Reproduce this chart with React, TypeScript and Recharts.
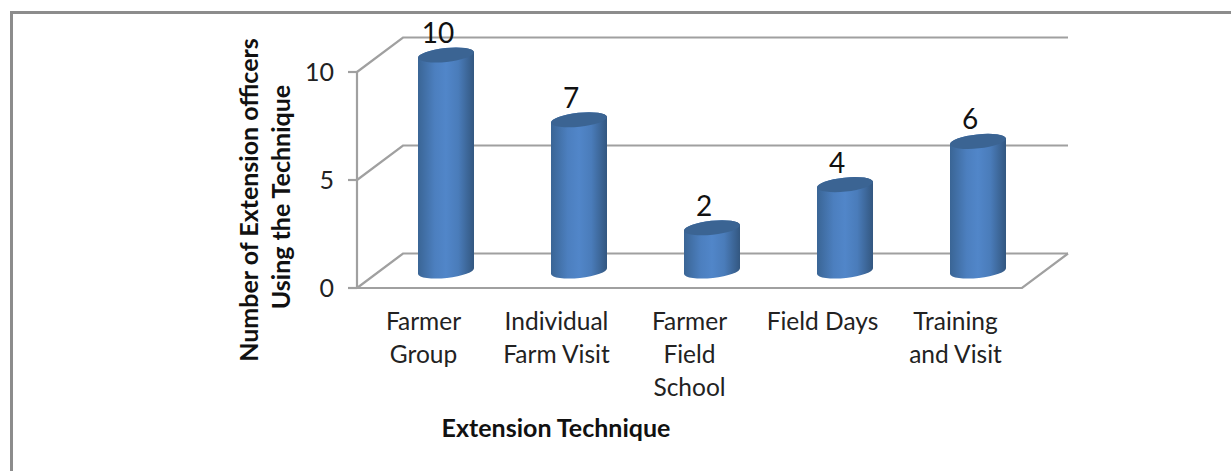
import { BarChart, Bar, XAxis, YAxis, CartesianGrid, LabelList } from "recharts";

const categories = ["Farmer Group", "Individual Farm Visit", "Farmer Field School", "Field Days", "Training and Visit"];
const categoryLines = [
  ["Farmer", "Group"],
  ["Individual", "Farm Visit"],
  ["Farmer", "Field", "School"],
  ["Field Days"],
  ["Training", "and Visit"],
];
const officers = [10, 7, 2, 4, 6];
const valueTicks = [0, 5, 10];

const data = categories.map((name, i) => ({ name, officers: officers[i] }));

const FONT = "Lato, 'Open Sans', sans-serif";
const WIDTH = 1231;
const HEIGHT = 471;
const LEFT = 379;
const RIGHT = 1044;
const TOP = 55;
const BOTTOM = 271;
// 3d offsets from the bars' plane to the front edge and back wall
const FRONT_X = -22;
const FRONT_Y = 17;
const BACK_X = 24;
const BACK_Y = -17.5;
const LINE = "#a0a0a0";

function GridLine(props: any) {
  const { x1, x2, y1 } = props;
  const fx = x1 + FRONT_X;
  const bx = x1 + BACK_X;
  const isFloor = Math.abs(y1 - BOTTOM) < 1;
  const base = { stroke: LINE, strokeWidth: 2.2, fill: "none" };
  return (
    <g>
      <polyline {...base} points={`${fx},${y1 + FRONT_Y} ${bx},${y1 + BACK_Y} ${x2 + BACK_X},${y1 + BACK_Y}`} />
      {isFloor && (
        <polyline
          {...base}
          points={`${fx},${TOP + FRONT_Y} ${fx},${y1 + FRONT_Y} ${x2 + FRONT_X},${y1 + FRONT_Y} ${x2 + BACK_X},${y1 + BACK_Y}`}
        />
      )}
    </g>
  );
}

function ValueTick({ y, payload }: any) {
  const front = LEFT + FRONT_X;
  return (
    <g>
      <line x1={front - 9} x2={front} y1={y + FRONT_Y} y2={y + FRONT_Y} stroke={LINE} strokeWidth={2.2} />
      <text x={334} y={y + FRONT_Y + 9} textAnchor="end" fontFamily={FONT} fontSize={25} fill="#222">
        {payload.value}
      </text>
    </g>
  );
}

function CategoryTick({ x, payload }: any) {
  const lines = categoryLines[categories.indexOf(payload.value)];
  return (
    <text textAnchor="middle" fontFamily={FONT} fontSize={24.5} fill="#222">
      {lines.map((line, i) => (
        <tspan key={line} x={x + FRONT_X} y={BOTTOM + 59 + i * 33}>
          {line}
        </tspan>
      ))}
    </text>
  );
}

function Cylinder({ x, y, width, height }: any) {
  const rx = width / 2;
  const ry = 7;
  const tilt = 3;
  const bottom = y + height;
  const side = `M${x},${y + tilt} L${x},${bottom + tilt}
    A${rx},${ry} -6 0 0 ${x + width},${bottom - tilt}
    L${x + width},${y - tilt}
    A${rx},${ry} -6 0 0 ${x},${y + tilt} Z`;
  return (
    <g>
      <path d={side} fill="url(#cylinderSide)" />
      <ellipse
        cx={x + rx}
        cy={y}
        rx={rx}
        ry={ry}
        transform={`rotate(-6 ${x + rx} ${y})`}
        fill="#3b6493"
      />
    </g>
  );
}

function BarValue({ x, y, width, value }: any) {
  return (
    <text x={x + width / 2 - 8} y={y - 12} textAnchor="middle" fontFamily={FONT} fontSize={28} fill="#111">
      {value}
    </text>
  );
}

export default function App() {
  return (
    <div style={{ position: "absolute", left: 0, top: 0, width: WIDTH, height: HEIGHT, background: "#fff", overflow: "hidden" }}>
      <div
        style={{
          position: "absolute",
          left: 10,
          top: 11,
          width: WIDTH,
          height: HEIGHT,
          borderLeft: "3px solid #8c8c8c",
          borderTop: "3px solid #8c8c8c",
        }}
      />
      <div style={{ position: "absolute", left: 0, top: 0 }}>
        <BarChart
          width={WIDTH}
          height={HEIGHT}
          data={data}
          margin={{ left: LEFT - 60, right: WIDTH - RIGHT, top: TOP, bottom: HEIGHT - BOTTOM - 60 }}
        >
          <defs>
            <linearGradient id="cylinderSide" x1="0" y1="0" x2="1" y2="0">
              <stop offset="0%" stopColor="#3a6595" />
              <stop offset="30%" stopColor="#4c7fbf" />
              <stop offset="50%" stopColor="#5186c9" />
              <stop offset="72%" stopColor="#4a7cba" />
              <stop offset="100%" stopColor="#335780" />
            </linearGradient>
          </defs>
          <CartesianGrid vertical={false} horizontal={(p: any) => <GridLine key={p.key} {...p} />} />
          <XAxis dataKey="name" height={60} axisLine={false} tickLine={false} interval={0} tick={<CategoryTick />} />
          <YAxis width={60} domain={[0, 10]} ticks={valueTicks} axisLine={false} tickLine={false} tick={<ValueTick />} />
          <Bar dataKey="officers" barSize={56} isAnimationActive={false} shape={<Cylinder />}>
            <LabelList dataKey="officers" content={<BarValue />} />
          </Bar>
          <text
            transform="translate(258 200) rotate(-90)"
            textAnchor="middle"
            fontFamily={FONT}
            fontSize={25}
            fontWeight={700}
            fill="#111"
          >
            Number of Extension officers
          </text>
          <text
            transform="translate(290 197) rotate(-90)"
            textAnchor="middle"
            fontFamily={FONT}
            fontSize={25}
            fontWeight={700}
            fill="#111"
          >
            Using the Technique
          </text>
          <text x={556} y={437} textAnchor="middle" fontFamily={FONT} fontSize={25} fontWeight={700} fill="#111">
            Extension Technique
          </text>
        </BarChart>
      </div>
    </div>
  );
}
